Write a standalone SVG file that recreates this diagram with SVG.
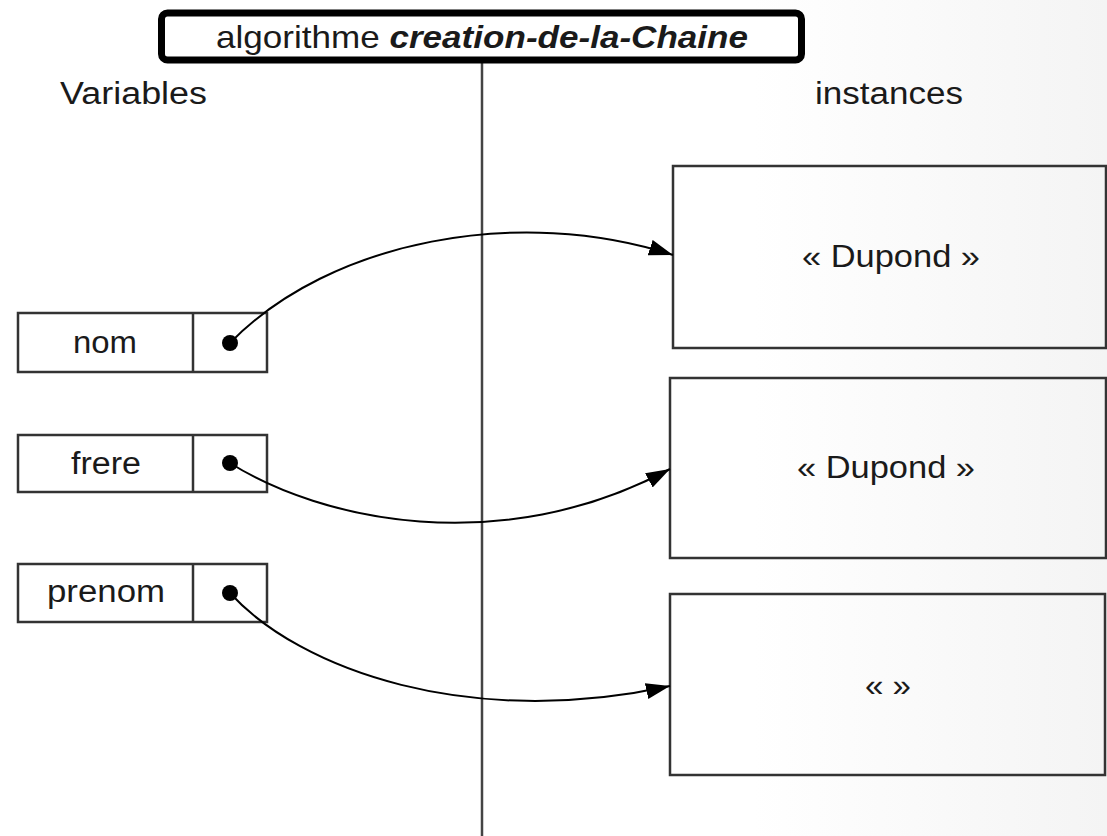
<svg xmlns="http://www.w3.org/2000/svg" width="1107" height="836" viewBox="0 0 1107 836">
  <defs>
    <linearGradient id="bg" x1="0" y1="0" x2="1" y2="0">
      <stop offset="0" stop-color="#ffffff"/>
      <stop offset="0.68" stop-color="#ffffff"/>
      <stop offset="1" stop-color="#f4f4f4"/>
    </linearGradient>
    <marker id="arrow" markerUnits="userSpaceOnUse" markerWidth="26" markerHeight="18" refX="24" refY="8" orient="auto">
      <path d="M0,0 L24,8 L0,16 Z" fill="#000"/>
    </marker>
    <style>
      text { font-family: "Liberation Sans", Arial, sans-serif; font-size: 31px; fill: #1a1a1a; }
      .title { font-size: 32px; }
      .box { fill: none; stroke: #333; stroke-width: 2.5; }
      .inst { fill: none; stroke: #333; stroke-width: 2.5; }
      .dot { fill: #000; }
      .conn { fill: none; stroke: #000; stroke-width: 2; marker-end: url(#arrow); }
      .axis { stroke: #444; stroke-width: 2.5; }
    </style>
  </defs>

  <rect x="0" y="0" width="1107" height="836" fill="url(#bg)"/>

  <line class="axis" x1="482" y1="60" x2="482" y2="836"/>

  <g id="title">
    <rect x="161.5" y="13" width="640" height="47" rx="6" fill="#fff" stroke="#000" stroke-width="7"/>
    <text class="title" x="216" y="48" textLength="532" lengthAdjust="spacingAndGlyphs">algorithme <tspan font-weight="bold" font-style="italic">creation-de-la-Chaine</tspan></text>
  </g>

  <g id="label-variables">
    <text x="60" y="104" textLength="147" lengthAdjust="spacingAndGlyphs">Variables</text>
  </g>
  <g id="label-instances">
    <text x="815" y="104" textLength="148" lengthAdjust="spacingAndGlyphs">instances</text>
  </g>

  <g id="var-nom">
    <rect class="box" x="18" y="313" width="249" height="59"/>
    <line class="box" x1="193" y1="313" x2="193" y2="372"/>
    <text x="73" y="353" textLength="64" lengthAdjust="spacingAndGlyphs">nom</text>
    <circle class="dot" cx="230" cy="343" r="8"/>
  </g>

  <g id="var-frere">
    <rect class="box" x="18" y="435" width="249" height="57"/>
    <line class="box" x1="193" y1="435" x2="193" y2="492"/>
    <text x="71" y="474" textLength="70" lengthAdjust="spacingAndGlyphs">frere</text>
    <circle class="dot" cx="230" cy="463" r="8"/>
  </g>

  <g id="var-prenom">
    <rect class="box" x="18" y="564" width="249" height="58"/>
    <line class="box" x1="193" y1="564" x2="193" y2="622"/>
    <text x="47" y="602" textLength="118" lengthAdjust="spacingAndGlyphs">prenom</text>
    <circle class="dot" cx="230" cy="593" r="8"/>
  </g>

  <g id="inst-1">
    <rect class="inst" x="673" y="166" width="433" height="182"/>
    <text x="802" y="267" textLength="178" lengthAdjust="spacingAndGlyphs">« Dupond »</text>
  </g>

  <g id="inst-2">
    <rect class="inst" x="670" y="378" width="436" height="180"/>
    <text x="797" y="478" textLength="178" lengthAdjust="spacingAndGlyphs">« Dupond »</text>
  </g>

  <g id="inst-3">
    <rect class="inst" x="670" y="594" width="435" height="181"/>
    <text x="865" y="696" textLength="46" lengthAdjust="spacingAndGlyphs">« »</text>
  </g>

  <g id="connectors">
    <path class="conn" d="M230,343 C330,240 520,205 673,255"/>
    <path class="conn" d="M230,463 C320,520 500,560 670,469"/>
    <path class="conn" d="M230,593 C300,670 470,730 670,686"/>
  </g>
</svg>
